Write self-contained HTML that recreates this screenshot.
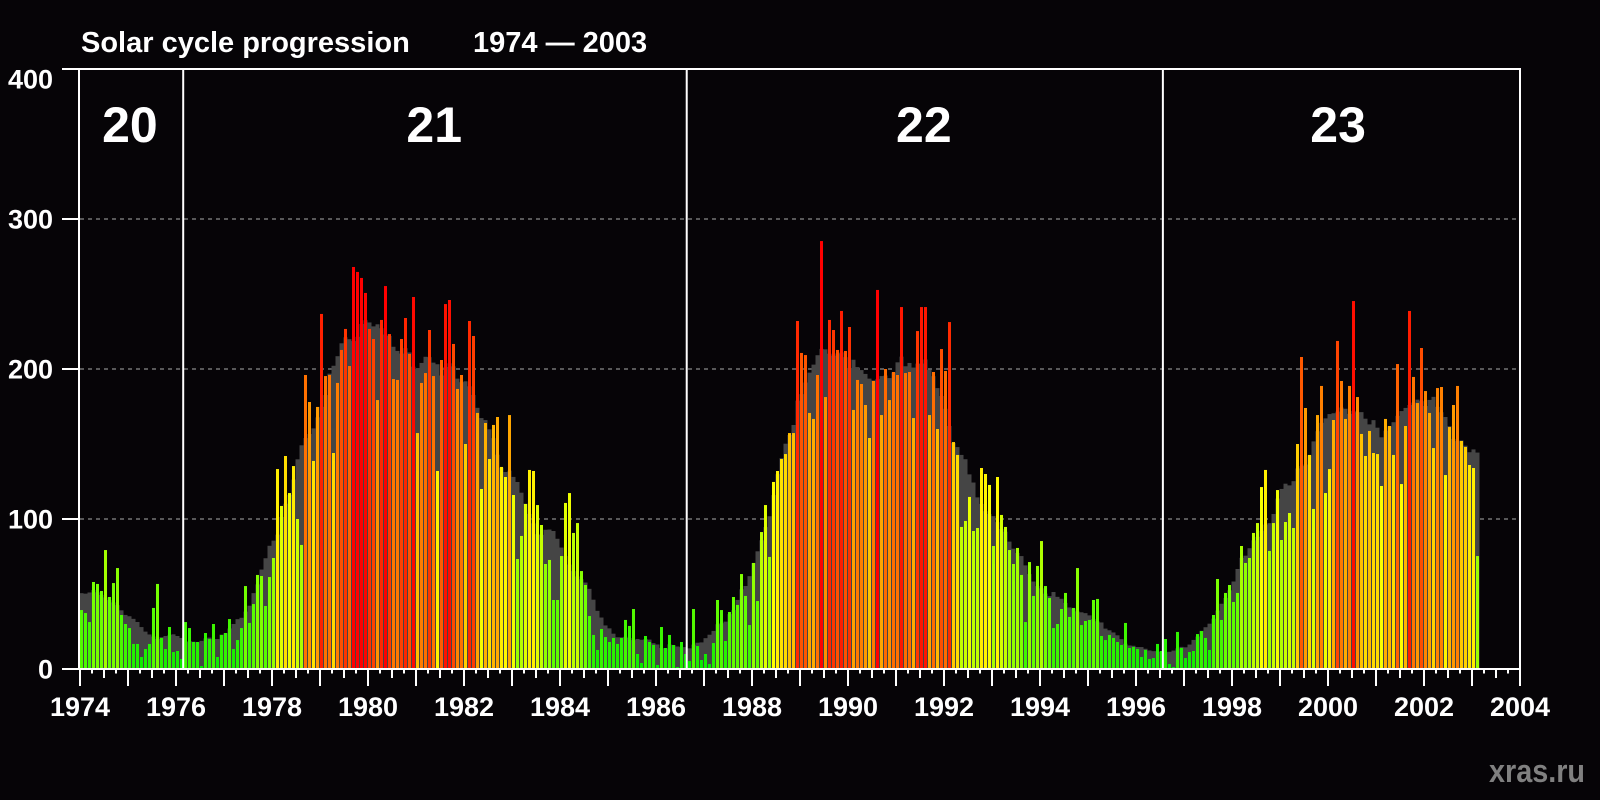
<!DOCTYPE html>
<html>
<head>
<meta charset="utf-8">
<style>
  html, body { margin: 0; padding: 0; background: #060407; }
  svg { display: block; }
  text { font-family: "Liberation Sans", Arial, sans-serif; font-weight: bold; }
</style>
</head>
<body>
<svg id="chart" width="1600" height="800" viewBox="0 0 1600 800" xmlns="http://www.w3.org/2000/svg">
  <rect x="0" y="0" width="1600" height="800" fill="#060407"/>
  <text x="81" y="52" font-size="29" fill="#ffffff">Solar cycle progression</text>
  <text x="473" y="52" font-size="29" fill="#ffffff">1974 — 2003</text>
  <g id="grid"></g>
  <g id="smooth"></g>
  <g id="bars"></g>
  <g id="axes"></g>
  <g id="cycles"></g>
  <text x="1489" y="782" font-size="32" fill="#808080" textLength="96" lengthAdjust="spacingAndGlyphs">xras.ru</text>
</svg>
<script>
// ---- data ----
const startYear = 1974;
const monthly = [
39.3,37.3,31.3,58,56.7,52,79.3,48,57.3,67.3,
36,30,27.3,16.7,16.7,8,13.3,16.7,40.7,56.7,
20.7,13.3,28,11.3,12,6.7,31.3,27.3,18,18,
2,24,20,30,8,22.7,24,33.3,13.3,19.3,
27.3,55.3,30.7,43.3,62.7,62,42,61.3,74,133.3,
108.7,142,117.3,135.3,100,82.7,196,178,138.7,174.7,
236.7,195.3,196,144,190.7,212.7,226.7,202,268,264.7,
260.7,250.7,226.7,220,179.3,232.7,255.3,223.3,193.3,192.7,
220,234,210,248,157.3,190.7,197.3,226,195.3,132,
206,243.3,246,216.7,186.7,196,150,232,222,170.7,
120,164,140,162.7,168,134.7,128,169.3,116,73.3,
88.7,110,132.7,132,109.3,96,70,72.7,46,46,
75.3,110.7,117.3,90.7,97.3,65.3,56,35.3,22.7,12.7,
26.7,21.3,18,20.7,16.7,20.7,32.7,28.7,40,10,
4,22,18,16,2.7,28,14,22.7,16,1.3,
18,10,5.3,40,15.3,6,10,3.3,17.3,46,
39.3,18.7,38,48,42.7,63.3,48.7,29.3,70.7,45.3,
91.3,109.3,74.7,124.7,132,140,143.3,157.3,157.3,232,
210.7,209.3,170.7,166.7,196,285.3,181.3,232.7,226,212.7,
238.7,212,228,172.7,192.7,190,176,154,192,252.7,
169.3,200,179.3,198,196,241.3,197.3,198,167.3,225.3,
241.3,241.3,169.3,198,160,213.3,198.7,231.3,151.3,142.7,
94.7,98.7,114.7,92,94,134,130,122.7,82,128,
102.7,94.7,79.3,70,80.7,62.7,31.3,71.3,48.7,68.7,
85.3,55.3,47.3,27.3,30,40,50.7,34.7,40.7,67.3,
29.3,32,32.7,46,46.7,22,19.3,22.7,20.7,18,
16,30.7,14,14.7,13.3,8,12.7,6.7,7.3,16.7,
12,20,3.3,1.3,24.7,14,7.3,11.3,12,23.3,
25.3,20.7,12.7,36,60,32.7,50.7,56,44.7,50.7,
82,70.7,74,90.7,97.3,121.3,132.7,78.7,97.3,119.3,
86,98,104,94,150,208,174,142.7,106.7,169.3,
188.7,117.3,133.3,166,218.7,192,166.7,188.7,245.3,181.3,
156.7,142,158.7,144,143.3,122,166.7,162,142.7,203.3,
123.3,162,238.7,194.7,177.3,214,185.3,170.7,147.3,187.3,
188,129.3,161.3,176,188.7,152,148,136,134,75.3
];
const yTicks = [0, 100, 200, 300, 400];
const xTickLabels = [1974,1976,1978,1980,1982,1984,1986,1988,1990,1992,1994,1996,1998,2000,2002,2004];
const cycleLabels = ["20","21","22","23"];
const cycleStarts = [1976.15, 1986.64, 1996.56];
const cycleLabelYears = [1975.04, 1981.38, 1991.58, 2000.21];

// ---- scales ----
const X0 = 80, PX_PER_YEAR = 48, Y0 = 669, PX_PER_UNIT = 1.5, XR = 1520, YT = 69;
function xYear(y) { return X0 + (y - startYear) * PX_PER_YEAR; }
function xMonth(i) { return X0 + i * PX_PER_YEAR / 12; }
function yVal(v) { return Y0 - v * PX_PER_UNIT; }

const NS = "http://www.w3.org/2000/svg";
function mk(tag, attrs, parent) {
  const e = document.createElementNS(NS, tag);
  for (const k in attrs) e.setAttribute(k, attrs[k]);
  parent.appendChild(e);
  return e;
}
function colorFor(v) {
  let r, g;
  if (v <= 125) { r = Math.round(Math.max(0, v) / 125 * 255); g = Math.round(232 + 23 * Math.min(1, v / 50)); }
  else { r = 255; g = Math.max(0, Math.round(255 - 2 * (v - 125))); }
  return "rgb(" + r + "," + g + ",0)";
}

// ---- grid ----
const grid = document.getElementById("grid");
yTicks.forEach(function (t) {
  if (t === 0 || t === 400) return;
  const l = mk("line", {x1: X0, x2: XR, y1: yVal(t), y2: yVal(t), stroke: "#8a8a8a", "stroke-width": 1.2, "stroke-dasharray": "4 4"}, grid);
  
  
});

// ---- smoothed (13-month running mean) ----
const smoothG = document.getElementById("smooth");
for (let i = 0; i < monthly.length; i++) {
  let s = 0, n = 0;
  for (let k = i - 6; k <= i + 6; k++) {
    if (k >= 0 && k < monthly.length) { s += monthly[k]; n++; }
  }
  const v = s / n;
  const r = mk("rect", {x: xMonth(i) - 0.5, y: yVal(v), width: 4, height: v * PX_PER_UNIT, fill: "#454545"}, smoothG);
  
  
}

// ---- monthly bars ----
const barsG = document.getElementById("bars");
monthly.forEach(function (v, i) {
  const r = mk("rect", {x: xMonth(i), y: yVal(v), width: 3, height: v * PX_PER_UNIT, fill: colorFor(v)}, barsG);
  
  
});

// ---- axes ----
const ax = document.getElementById("axes");
const axisLines = [
  [62, Y0, XR + 1, Y0, 'x-axis-line'],
  [62, YT, XR + 1, YT, 'top-frame-line'],
  [X0 - 1, YT, X0 - 1, Y0, 'y-axis-line'],
  [XR, YT, XR, Y0 + 17, 'right-frame-line']
];
axisLines.forEach(function (a) {
  const l = mk("line", {x1: a[0], y1: a[1], x2: a[2], y2: a[3], stroke: "#ffffff", "stroke-width": 2}, ax);
  
  
});
yTicks.forEach(function (t) {
  const tk = mk("line", {x1: 62, x2: X0, y1: yVal(t), y2: yVal(t), stroke: "#ffffff", "stroke-width": 2}, ax);
  
  
  const ty = (t === 400) ? yVal(t) + 10 : yVal(t);
  const tx = mk("text", {x: 53, y: ty + 9.5, "font-size": 27, fill: "#ffffff", "text-anchor": "end"}, ax);
  tx.textContent = String(t);
  
  
});
const nQ = (2004 - startYear) * 4;
for (let k = 0; k <= nQ; k++) {
  const x = X0 + k * PX_PER_YEAR / 4;
  const len = (k % 4 === 0) ? 17 : (k % 2 === 0 ? 9 : 4.5);
  const tk = mk("line", {x1: x, x2: x, y1: Y0, y2: Y0 + len, stroke: "#ffffff", "stroke-width": 2}, ax);
  
  
}
xTickLabels.forEach(function (yr) {
  const tx = mk("text", {x: xYear(yr), y: 716, "font-size": 27, fill: "#ffffff", "text-anchor": "middle"}, ax);
  tx.textContent = String(yr);
  
  
});

// ---- cycle separators & labels ----
const cy = document.getElementById("cycles");
cycleStarts.forEach(function (yr) {
  const l = mk("line", {x1: xYear(yr), x2: xYear(yr), y1: YT, y2: Y0, stroke: "#ffffff", "stroke-width": 2}, cy);
  
  
});
cycleLabels.forEach(function (lab, i) {
  const tx = mk("text", {x: xYear(cycleLabelYears[i]), y: 142, "font-size": 50, fill: "#ffffff", "text-anchor": "middle"}, cy);
  tx.textContent = lab;
  
  
});
</script>
</body>
</html>
